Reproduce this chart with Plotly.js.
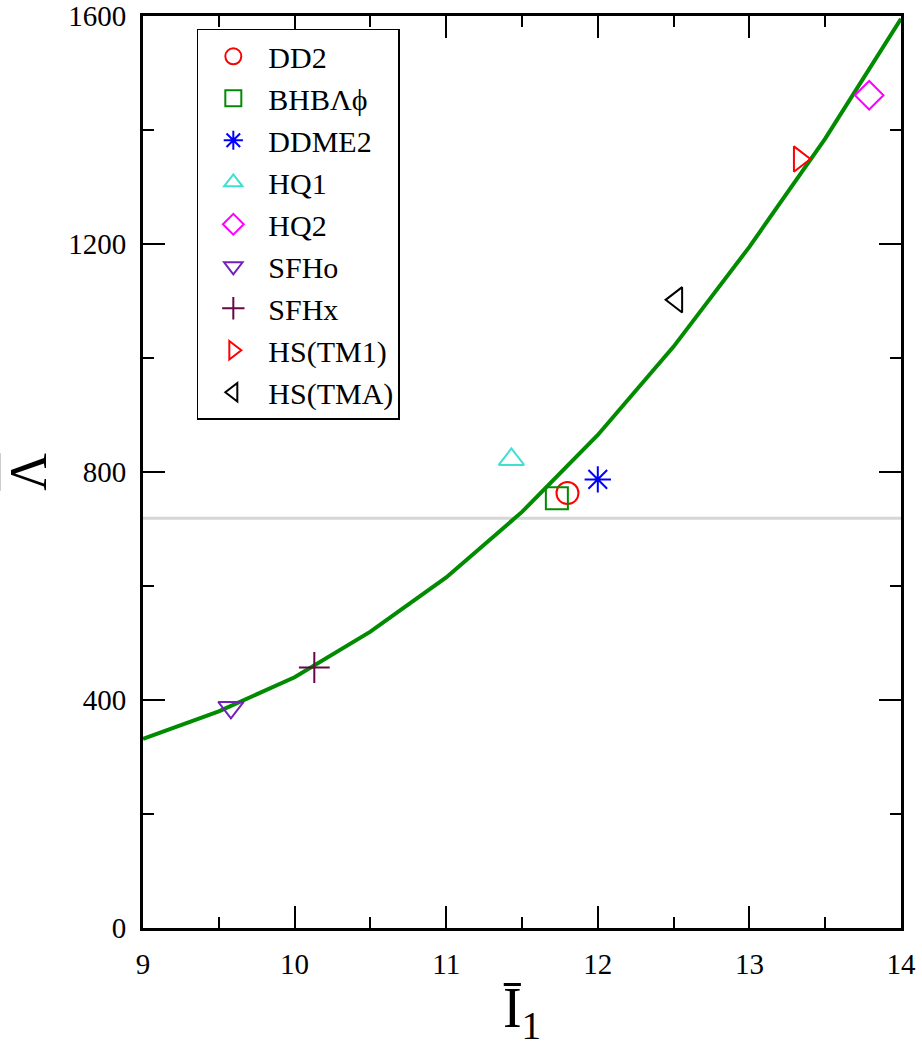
<!DOCTYPE html>
<html>
<head>
<meta charset="utf-8">
<script src="https://cdn.plot.ly/plotly-3.0.1.min.js"></script>
<style>
  html, body { margin: 0; padding: 0; background: #fff; }
  #plot { width: 922px; height: 1059px; }
</style>
</head>
<body>
<div id="plot"></div>
<script>
// Fit curve of Lambda-bar against I-bar_1
const fitI = [9.0, 9.5, 10.0, 10.5, 11.0, 11.5, 12.0, 12.5, 13.0, 13.5, 14.0];
const fitLambda = [332, 380, 440, 520, 615, 730, 865, 1020, 1195, 1385, 1595];

// Reference level (horizontal line)
const refLambda = 719;

// Equation-of-state points
const eosNames = ["DD2", "BHBΛϕ", "DDME2", "HQ1", "HQ2", "SFHo", "SFHx", "HS(TM1)", "HS(TMA)"];
const eosI = [11.80, 11.73, 12.00, 11.43, 13.79, 9.58, 10.13, 13.33, 12.52];
const eosLambda = [763, 754, 787, 822, 1461, 387, 457, 1349, 1102];
const eosSymbols = ["circle-open", "square-open", "asterisk-open", "triangle-up-open", "diamond-open",
                    "triangle-down-open", "cross-thin-open", "triangle-right-open", "triangle-left-open"];
const eosColors = ["#ff0000", "#008b00", "#0000ff", "#40e0d0", "#ff00ff",
                   "#7221bc", "#670748", "#ff0000", "#000000"];

const serif = "Liberation Serif, Times New Roman, serif";

const traces = [
  {
    x: [9, 14], y: [refLambda, refLambda],
    mode: "lines", line: {color: "#d6d6d6", width: 3},
    showlegend: false, hoverinfo: "skip"
  },
  {
    x: fitI, y: fitLambda,
    mode: "lines", line: {color: "#008b00", width: 4},
    showlegend: false
  }
];

eosNames.forEach((name, i) => {
  traces.push({
    x: [eosI[i]], y: [eosLambda[i]],
    name: name,
    legendgroup: "g" + i,
    mode: "markers",
    marker: {
      symbol: eosSymbols[i],
      size: 22,
      color: eosColors[i],
      line: {color: eosColors[i], width: 2}
    }
  });
});

const axisCommon = {
  showline: true, linecolor: "#000", linewidth: 3, mirror: "ticks",
  ticks: "inside", ticklen: 22, tickwidth: 2, tickcolor: "#000",
  showgrid: false, zeroline: false,
  tickfont: {family: serif, size: 29, color: "#000"},
  ticklabelstandoff: 8, ticklabeloverflow: "allow"
};

const layout = {
  width: 922, height: 1059,
  margin: {l: 143, r: 21, t: 16, b: 131},
  paper_bgcolor: "#fff", plot_bgcolor: "#fff",
  xaxis: Object.assign({}, axisCommon, {
    range: [9, 14], dtick: 1, tick0: 9,
    minor: {dtick: 0.5, ticks: "inside", ticklen: 11, tickwidth: 2, tickcolor: "#000", showgrid: false},
    title: {text: "Ī<sub>1</sub>", font: {family: serif, size: 56, color: "#000"}, standoff: 10}
  }),
  yaxis: Object.assign({}, axisCommon, {
    range: [0, 1600], dtick: 400, tick0: 0,
    minor: {dtick: 200, ticks: "inside", ticklen: 11, tickwidth: 2, tickcolor: "#000", showgrid: false},
    title: {text: "<span style=\"text-decoration:overline\">Λ</span>",
            font: {family: serif, size: 52, color: "#000"}, standoff: 18}
  }),
  legend: {
    x: 0.071, y: 0.986, xanchor: "left", yanchor: "top",
    bgcolor: "#fff", bordercolor: "#000", borderwidth: 1.5,
    font: {family: serif, size: 30, color: "#000"},
    tracegroupgap: 0, itemwidth: 60
  },
  showlegend: true
};

Plotly.newPlot("plot", traces, layout, {displayModeBar: false, staticPlot: true});
</script>
</body>
</html>
